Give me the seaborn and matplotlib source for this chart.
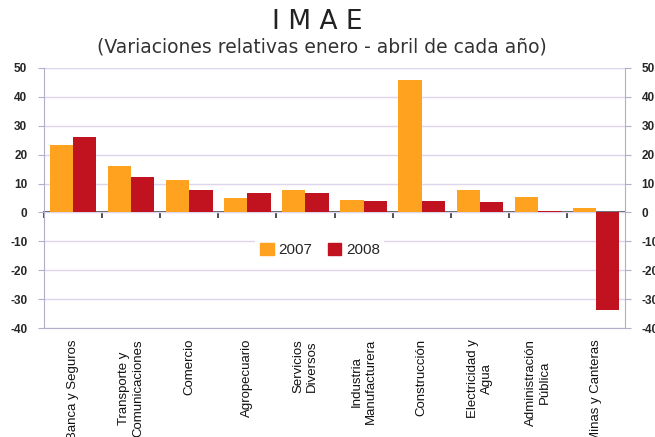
import matplotlib
matplotlib.use("Agg")
import matplotlib.pyplot as plt
import pandas as pd
import seaborn as sns

# datos del gráfico
categorias = ["Banca y Seguros", "Transporte y\nComunicaciones", "Comercio", "Agropecuario",
              "Servicios\nDiversos", "Industria\nManufacturera", "Construcción",
              "Electricidad y\nAgua", "Administración\nPública", "Minas y Canteras"]
valores_2007 = [23.2, 16.2, 11.4, 5.0, 7.9, 4.4, 45.7, 7.9, 5.5, 1.5]
valores_2008 = [26.0, 12.2, 7.9, 6.9, 6.9, 3.9, 3.9, 3.5, 0.6, -33.9]
anios = ["2007", "2008"]
y_ticks = [50, 40, 30, 20, 10, 0, -10, -20, -30, -40]

colores = {"2007": "#FFA21F", "2008": "#C1121F"}
grid_color = "#DCD5EC"
spine_color = "#B3ACCB"

df = pd.DataFrame({
    "categoria": categorias * 2,
    "anio": [anios[0]] * len(categorias) + [anios[1]] * len(categorias),
    "valor": valores_2007 + valores_2008,
})

sns.set_style("white")
plt.rcParams["font.family"] = ["Liberation Sans", "DejaVu Sans"]
plt.rcParams["axes.unicode_minus"] = False

fig = plt.figure(figsize=(6.55, 4.37), dpi=100)
ax = fig.add_axes([0.0672, 0.2494, 0.887, 0.595])

sns.barplot(data=df, x="categoria", y="valor", hue="anio", palette=colores,
            saturation=1, width=0.8, edgecolor="none", ax=ax, legend=False)

ax.set_ylim(-40, 50)
ax.set_xlim(-0.5, len(categorias) - 0.5)
ax.set_yticks(y_ticks)
ax.set_axisbelow(True)
ax.yaxis.grid(True, color=grid_color, linewidth=1)
ax.set_xlabel("")
ax.set_ylabel("")

for s in ["left", "right", "bottom"]:
    ax.spines[s].set_color(spine_color)
ax.spines["top"].set_visible(False)

ax.tick_params(axis="x", length=0, pad=8)
ax.set_xticks(range(len(categorias)))
ax.set_xticklabels(categorias, rotation=90, fontsize=9.5, va="top", ha="center",
                   multialignment="center", color="#111111")
ax.tick_params(axis="y", left=True, length=4, color=spine_color, labelsize=8.5, pad=8)
for t in ax.get_yticklabels():
    t.set_fontweight("bold")

# eje derecho
ax2 = ax.twinx()
ax2.set_ylim(ax.get_ylim())
ax2.set_yticks(y_ticks)
ax2.tick_params(axis="y", right=True, length=4, color=spine_color, labelsize=8.5, pad=8)
for t in ax2.get_yticklabels():
    t.set_fontweight("bold")
for s in ax2.spines.values():
    s.set_visible(False)

# eje de categorías sobre el cero
sec = ax.secondary_xaxis(0, transform=ax.transData)
sec.set_xticks([i + 0.5 for i in range(-1, len(categorias) - 1)])
sec.set_xticklabels([])
sec.tick_params(axis="x", direction="out", length=4, width=1.2, color="#333333")
sec.spines["bottom"].set_color("#333333")
sec.spines["bottom"].set_linewidth(1.2)

handles = [plt.Rectangle((0, 0), 1, 1, color=colores[a]) for a in anios]
leg = ax.legend(handles, anios, ncol=2, loc="center", bbox_to_anchor=(0.475, 0.30),
                frameon=True, facecolor="white", edgecolor="none", framealpha=1,
                fontsize=11, handlelength=0.9, handleheight=0.9, handletextpad=0.3,
                columnspacing=1.0, borderpad=0.3)

fig.text(0.485, 0.95, "I M A E", ha="center", va="center", fontsize=19,
         family="DejaVu Sans", color="#222222")
fig.text(0.492, 0.893, "(Variaciones relativas enero - abril de cada año)", ha="center",
         va="center", fontsize=13.5, family="DejaVu Sans", color="#333333")

fig.savefig("out.png", dpi=100)
